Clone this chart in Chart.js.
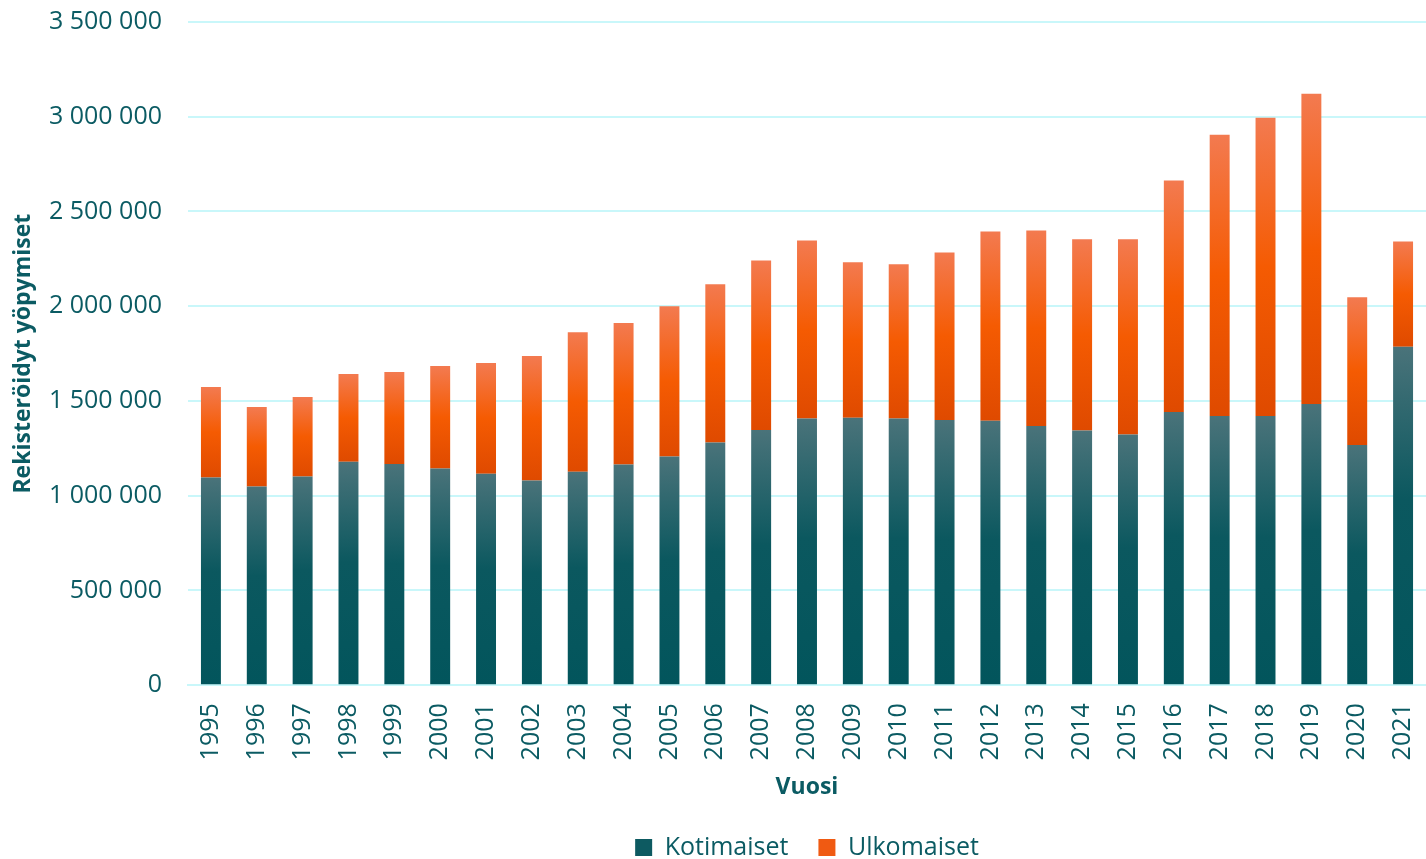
<!DOCTYPE html>
<html>
<head>
<meta charset="utf-8">
<script src="https://cdn.jsdelivr.net/npm/chart.js@4.4.0/dist/chart.umd.min.js"></script>
<style>
  html, body { margin: 0; padding: 0; background: #fff; }
  .card { width: 1426px; height: 859px; position: relative; }
</style>
</head>
<body>
<div class="card"><canvas id="chart"></canvas></div>
<script>
// Years and overnight stays
const years = ["1995", "1996", "1997", "1998", "1999", "2000", "2001", "2002", "2003", "2004",
  "2005", "2006", "2007", "2008", "2009", "2010", "2011", "2012", "2013", "2014",
  "2015", "2016", "2017", "2018", "2019", "2020", "2021"];
const kotimaiset = [1096000, 1049000, 1102000, 1179000, 1168000, 1144000, 1116000, 1081000, 1126000, 1165000,
  1207000, 1281000, 1347000, 1407000, 1411000, 1407000, 1400000, 1396000, 1368000, 1344000,
  1323000, 1442000, 1421000, 1421000, 1484000, 1268000, 1786000];
const totals = [1574000, 1468000, 1521000, 1642000, 1653000, 1684000, 1700000, 1737000, 1863000, 1911000,
  2000000, 2116000, 2242000, 2347000, 2232000, 2221000, 2284000, 2395000, 2400000, 2353000,
  2353000, 2663000, 2905000, 2995000, 3121000, 2047000, 2342000];
const ulkomaiset = totals.map((t, i) => t - kotimaiset[i]);

const textColor = "#0b5b63";
const gridColor = "#c9f7fa";

const fmt = v => String(v).replace(/\B(?=(\d{3})+(?!\d))/g, " ");

// gradient per bar segment, from its top to its bottom
function segmentGradient(ctx, stops, lowFn, highFn) {
    const chart = ctx.chart;
    if (!chart.chartArea || ctx.dataIndex === undefined) return stops[1][1];
    const y = chart.scales.y;
    const top = y.getPixelForValue(highFn(ctx.dataIndex));
    const bottom = y.getPixelForValue(lowFn(ctx.dataIndex));
    if (!isFinite(top) || !isFinite(bottom) || bottom - top < 1) return stops[1][1];
    const g = chart.ctx.createLinearGradient(0, top, 0, bottom);
    stops.forEach(s => g.addColorStop(s[0], s[1]));
    return g;
}

const domesticStops = [[0, "#4a737a"], [0.45, "#0b585f"], [1, "#02555c"]];
const foreignStops = [[0, "#f37a50"], [0.5, "#f55b02"], [1, "#df4a00"]];

new Chart(document.getElementById("chart"), {
    type: "bar",
    data: {
        labels: years,
        datasets: [{
            label: "Kotimaiset",
            data: kotimaiset,
            backgroundColor: c => segmentGradient(c, domesticStops, () => 0, i => kotimaiset[i]),
            barPercentage: 0.87,
            categoryPercentage: 0.5
        }, {
            label: "Ulkomaiset",
            data: ulkomaiset,
            backgroundColor: c => segmentGradient(c, foreignStops, i => kotimaiset[i], i => totals[i]),
            barPercentage: 0.87,
            categoryPercentage: 0.5
        }]
    },
    options: {
        responsive: true,
        maintainAspectRatio: false,
        animation: false,
        layout: { padding: { top: 22, right: 0, left: 10, bottom: -11 } },
        font: { family: "Open Sans" },
        scales: {
            x: {
                stacked: true,
                grid: { display: false },
                border: { color: gridColor, width: 2 },
                afterFit: s => { s.paddingLeft = 0; s.paddingRight = 0; },
                ticks: {
                    color: textColor,
                    font: { family: "Open Sans", size: 25 },
                    minRotation: 90,
                    maxRotation: 90,
                    padding: 10
                },
                title: {
                    display: true,
                    text: "Vuosi",
                    color: textColor,
                    font: { family: "Open Sans", size: 23, weight: "bold" },
                    padding: { top: 3, bottom: 4 }
                }
            },
            y: {
                stacked: true,
                min: 0,
                max: 3500000,
                grid: { color: gridColor, lineWidth: 2, drawTicks: false },
                border: { display: false },
                afterFit: s => { s.width = 178; s.paddingTop = 0; s.paddingBottom = 0; },
                ticks: {
                    stepSize: 500000,
                    color: textColor,
                    font: { family: "Open Sans", size: 25 },
                    padding: 26,
                    callback: v => fmt(v)
                },
                title: {
                    display: true,
                    text: "Rekisteröidyt yöpymiset",
                    color: textColor,
                    font: { family: "Open Sans", size: 23, weight: "bold" },
                    padding: { top: 0, bottom: 4 }
                }
            }
        },
        plugins: {
            legend: {
                position: "bottom",
                fullSize: false,
                labels: {
                    color: textColor,
                    font: { family: "Open Sans", size: 25 },
                    boxWidth: 17,
                    boxHeight: 17,
                    padding: 30,
                    generateLabels: chart => {
                        const items = Chart.defaults.plugins.legend.labels.generateLabels(chart);
                        const fills = ["#0d5a61", "#f05a12"];
                        items.forEach((it, i) => { it.fillStyle = fills[i]; it.strokeStyle = fills[i]; it.lineWidth = 0; });
                        return items;
                    }
                }
            },
            tooltip: { enabled: false }
        }
    }
});
</script>
</body>
</html>
